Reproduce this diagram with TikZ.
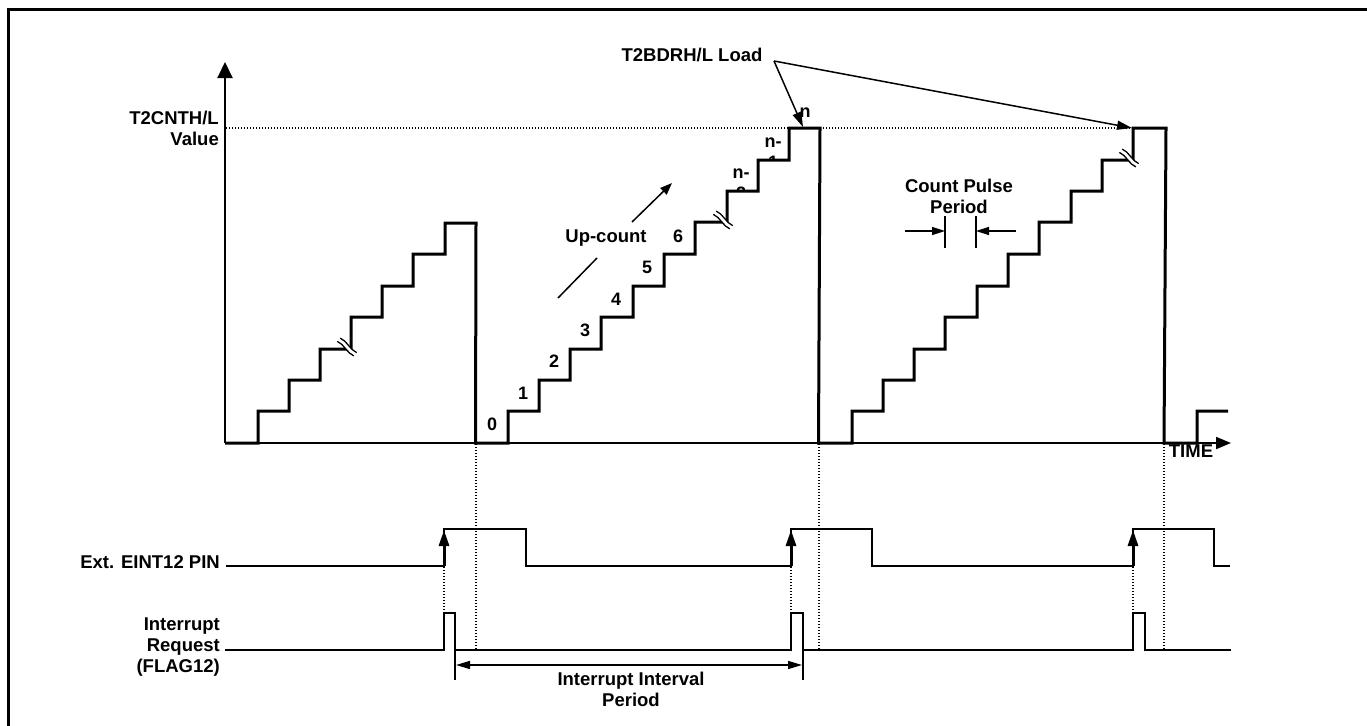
\documentclass[tikz,border=0pt]{standalone}
\usepackage{fontspec}
\setmainfont{Liberation Sans}
\usetikzlibrary{arrows.meta}
\begin{document}
\begin{tikzpicture}[x=1pt,y=-1pt,
  lbl/.style={font=\fontsize{18.5}{21}\selectfont\bfseries,inner sep=0pt},
  num/.style={font=\fontsize{18}{20}\selectfont\bfseries,inner sep=0pt,anchor=base},
  stair/.style={line width=3pt,line join=miter},
  sig/.style={line width=2pt,line join=miter},
  dotline/.style={line width=1.4pt,dash pattern=on 1.4pt off 1.6pt},
  thinline/.style={line width=1.5pt},
  brk/.pic={
    \draw[white,line width=3.6pt] (-11.5,-8.6) -- (3.5,4.6);
    \draw[line width=1.3pt] (-10.8,-10.9) .. controls (-3.9,-8.2) and (-1.2,0.86) .. (5.7,3.6);
    \draw[line width=1.3pt] (-13.7,-7.6) .. controls (-6.8,-4.9) and (-4.1,4.2) .. (2.8,6.9);
  }
]
\useasboundingbox (0,0) rectangle (1367,725);

% frame
\draw[line width=3pt] (8,730) -- (8,10) -- (1372,10);

% reference dotted lines
\draw[dotline] (226,128) -- (1133,128);
\draw[dotline] (476,444) -- (476,650);
\draw[dotline] (819,444) -- (819,650);
\draw[dotline] (1164,444) -- (1164,650);
\draw[dotline] (444,567) -- (444,613);
\draw[dotline] (791,567) -- (791,613);
\draw[dotline] (1133,567) -- (1133,613);

% axes
\draw[line width=2pt,-{Triangle[width=15pt,length=16pt]}] (225,443) -- (225,62);
\draw[line width=2pt,-{Triangle[width=12pt,length=15pt]}] (225,443) -- (1231,443);

% labels
\node[lbl,align=right] (yl) at (219,128.5) [anchor=east] {T2CNTH/L\\Value};
\node[lbl,anchor=base] (load) at (692,62) {T2BDRH/L Load};
\node[lbl,anchor=base] (up) at (606,242) {Up-count};
\node[lbl,anchor=base] (time) at (1191,457) {TIME};
\node[lbl,align=center] (cpp) at (959,196) {Count Pulse\\Period};
\node[lbl,anchor=base east] (eint) at (220,568) {Ext. EINT12 PIN};
\node[lbl,align=right,anchor=east] (irq) at (220,647) {Interrupt\\Request\\(FLAG12)};
\node[lbl,align=center] (iip) at (631,689) {Interrupt Interval\\Period};

\node[num] (c0) at (492,430) {0};
\node[num] (c1) at (523,399) {1};
\node[num] (c2) at (554,367) {2};
\node[num] (c3) at (585,336) {3};
\node[num] (c4) at (616,305) {4};
\node[num] (c5) at (647,273) {5};
\node[num] (c6) at (678,242) {6};
\node[num] (cn2) at (741,178) {n-};
\node[num] (cn1) at (773,147) {n-};
\node[num] (cn) at (805,117) {n};
\begin{scope}
  \clip (725,180) rectangle (760,190);
  \node[num] (cn2b) at (741,199) {2};
\end{scope}
\begin{scope}
  \clip (757,149) rectangle (790,159);
  \node[num] (cn1b) at (773,168) {1};
\end{scope}

% counter staircases
\draw[stair] (225,443) -- (258,443) -- (258,411) -- (289,411) -- (289,380) -- (320,380)
  -- (320,349) -- (351,349) -- (351,317) -- (382,317) -- (382,286) -- (413,286)
  -- (413,254) -- (445,254) -- (445,223) -- (476,223) -- (475.5,443)
  -- (508,443) -- (508,411) -- (539,411) -- (539,380) -- (570,380) -- (570,349)
  -- (601,349) -- (601,317) -- (633,317) -- (633,286) -- (664,286) -- (664,254)
  -- (695,254) -- (695,222) -- (727,222) -- (727,191) -- (758,191) -- (758,160)
  -- (789,160) -- (789,128) -- (820,128) -- (818.5,443)
  -- (852,443) -- (852,411) -- (883,411) -- (883,380) -- (914,380) -- (914,349)
  -- (945,349) -- (945,317) -- (977,317) -- (977,286) -- (1008,286) -- (1008,254)
  -- (1039,254) -- (1039,222) -- (1071,222) -- (1071,191) -- (1102,191) -- (1102,160)
  -- (1133,160) -- (1133,128) -- (1166,128) -- (1164,443)
  -- (1197,443) -- (1197,411) -- (1228,411);
\pic at (351,349) {brk};
\pic at (727,222) {brk};
\pic at (1133,160) {brk};

% load arrows
\coordinate (ldsrc) at (774,61);
\coordinate (top1) at (803,127);
\coordinate (top2) at (1132,128);
\draw[thinline,-{Triangle[width=9pt,length=15pt]}] (ldsrc) -- (top1);
\draw[thinline,-{Triangle[width=9pt,length=15pt]}] (ldsrc) -- (top2);

% up-count arrow
\coordinate (ua) at (558,298);
\coordinate (ub) at (597,258);
\coordinate (uc) at (632,222);
\coordinate (ud) at (672,183);
\draw[thinline] (ua) -- (ub);
\draw[thinline,-{Triangle[width=9pt,length=12pt]}] (uc) -- (ud);

% count pulse period
\coordinate (pa1) at (945,216); \coordinate (pa2) at (945,248);
\coordinate (pb1) at (976,216); \coordinate (pb2) at (976,248);
\draw[thinline] (pa1) -- (pa2);
\draw[thinline] (pb1) -- (pb2);
\coordinate (pl) at (905,231); \coordinate (pr) at (1016,231);
\coordinate (pla) at (945,231); \coordinate (pra) at (976,231);
\draw[thinline,-{Triangle[width=8pt,length=13pt]}] (pl) -- (pla);
\draw[thinline,-{Triangle[width=8pt,length=13pt]}] (pr) -- (pra);

% EINT12 pin
\draw[sig] (226,566) -- (444,566) -- (444,529) -- (526,529) -- (526,566) -- (791,566)
  -- (791,529) -- (872,529) -- (872,566) -- (1133,566) -- (1133,529) -- (1214,529)
  -- (1214,566) -- (1230,566);
\foreach \xx in {444,791,1133}
  \draw[line width=3pt,-{Triangle[width=10pt,length=16pt]}] (\xx,566) -- (\xx,530);

% interrupt request
\draw[sig] (225,650) -- (444,650) -- (444,613) -- (455,613) -- (455,680);
\draw[sig] (455,650) -- (791,650) -- (791,613) -- (803,613) -- (803,680);
\draw[sig] (803,650) -- (1133,650) -- (1133,613) -- (1145,613) -- (1145,650) -- (1231,650);

% interval arrow
\coordinate (ia) at (456,665);
\coordinate (ib) at (802,665);
\draw[thinline,{Triangle[width=8pt,length=14pt]}-{Triangle[width=8pt,length=14pt]}] (ia) -- (ib);
\end{tikzpicture}
\end{document}
